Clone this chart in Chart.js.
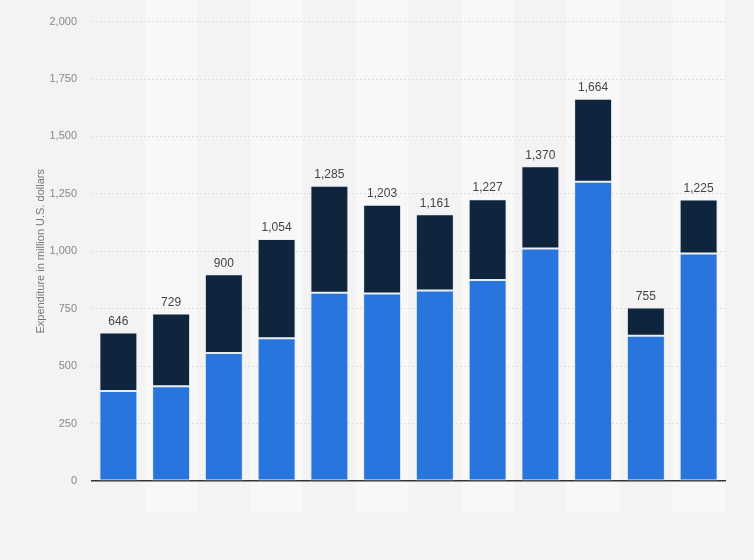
<!DOCTYPE html>
<html>
<head>
<meta charset="utf-8">
<script src="https://cdn.jsdelivr.net/npm/chart.js@4.4.0/dist/chart.umd.min.js"></script>
<style>
  html, body { margin: 0; padding: 0; background: #f3f3f3; }
  #wrap { width: 754px; height: 560px; }
</style>
</head>
<body>
<div id="wrap"><canvas id="chart"></canvas></div>
<script>
// values (million U.S. dollars)
const categories = ['1', '2', '3', '4', '5', '6', '7', '8', '9', '10', '11', '12'];
const totals = [646, 729, 900, 1054, 1285, 1203, 1161, 1227, 1370, 1664, 755, 1225];
const lowerPart = [392, 412, 557, 622, 820, 816, 829, 875, 1012, 1303, 632, 990];
const upperPart = [254, 317, 343, 432, 465, 387, 332, 352, 358, 361, 123, 235];
const yTicks = [0, 250, 500, 750, 1000, 1250, 1500, 1750, 2000];

const fmt = (v)=> v.toLocaleString('en-US');

// lighter column bands behind every second category
const bands = {
    id: 'bands',
    beforeDraw(chart){
        const ctx = chart.ctx;
        const x = chart.scales.x;
        const step = x.getPixelForValue(1) - x.getPixelForValue(0);
        ctx.save();
        for (let i = 1; i < categories.length; i += 2) {
            const c = x.getPixelForValue(i);
            ctx.fillStyle = '#f8f8f8';
            ctx.fillRect(c - step/2, 0, step, 512);
        }
        ctx.restore();
    }
};

// total on top of each stack
const totalLabels = {
    id: 'totalLabels',
    afterDatasetsDraw(chart){
        const ctx = chart.ctx;
        const x = chart.scales.x;
        const y = chart.scales.y;
        ctx.save();
        ctx.font = '12px "Liberation Sans", Arial, sans-serif';
        ctx.fillStyle = '#444';
        ctx.textAlign = 'center';
        ctx.textBaseline = 'bottom';
        totals.forEach((t, i)=>{
            ctx.fillText(fmt(t), x.getPixelForValue(i), y.getPixelForValue(t) - 5);
        });
        ctx.restore();
    }
};

Chart.defaults.font.family = '"Liberation Sans", Arial, sans-serif';

new Chart(document.querySelector('#chart'), {
    type: 'bar',
    data: {
        labels: categories,
        datasets: [
            {
                label: 'part 1',
                data: lowerPart,
                backgroundColor: '#2876dd',
                borderColor: 'rgba(220,230,240,0.6)',
                borderWidth: 1,
                borderSkipped: false,
            },
            {
                label: 'part 2',
                data: upperPart,
                backgroundColor: '#0f253d',
                borderColor: 'rgba(220,230,240,0.6)',
                borderWidth: 1,
                borderSkipped: false,
            },
        ]
    },
    options: {
        responsive: true,
        maintainAspectRatio: false,
        animation: false,
        layout: { padding: { left: 34, right: 29, top: 14, bottom: 79 } },
        plugins: {
            legend: { display: false },
            tooltip: { enabled: false },
        },
        scales: {
            x: {
                stacked: true,
                categoryPercentage: 1,
                barPercentage: 0.74,
                grid: { display: false, drawTicks: false },
                ticks: { display: false },
                border: { display: true, color: '#333', width: 1.5 },
                afterFit: (s)=>{ s.height = 0; },
            },
            y: {
                stacked: true,
                min: 0,
                max: 2000,
                afterBuildTicks: (s)=>{ s.ticks = yTicks.map(v=>({ value: v })); },
                afterFit: (s)=>{ s.width = 58; },
                ticks: {
                    padding: 15,
                    color: '#888',
                    font: { size: 11 },
                    callback: (v)=> fmt(v),
                },
                grid: {
                    color: (c)=> c.tick && c.tick.value === 0 ? 'rgba(0,0,0,0)' : '#dcdcdc',
                    drawTicks: false,
                },
                border: { display: false, dash: [2, 2] },
                title: {
                    display: true,
                    text: 'Expenditure in million U.S. dollars',
                    color: '#777',
                    font: { size: 11 },
                    padding: { top: 0, bottom: 0 },
                },
            }
        }
    },
    plugins: [bands, totalLabels],
});
</script>
</body>
</html>
